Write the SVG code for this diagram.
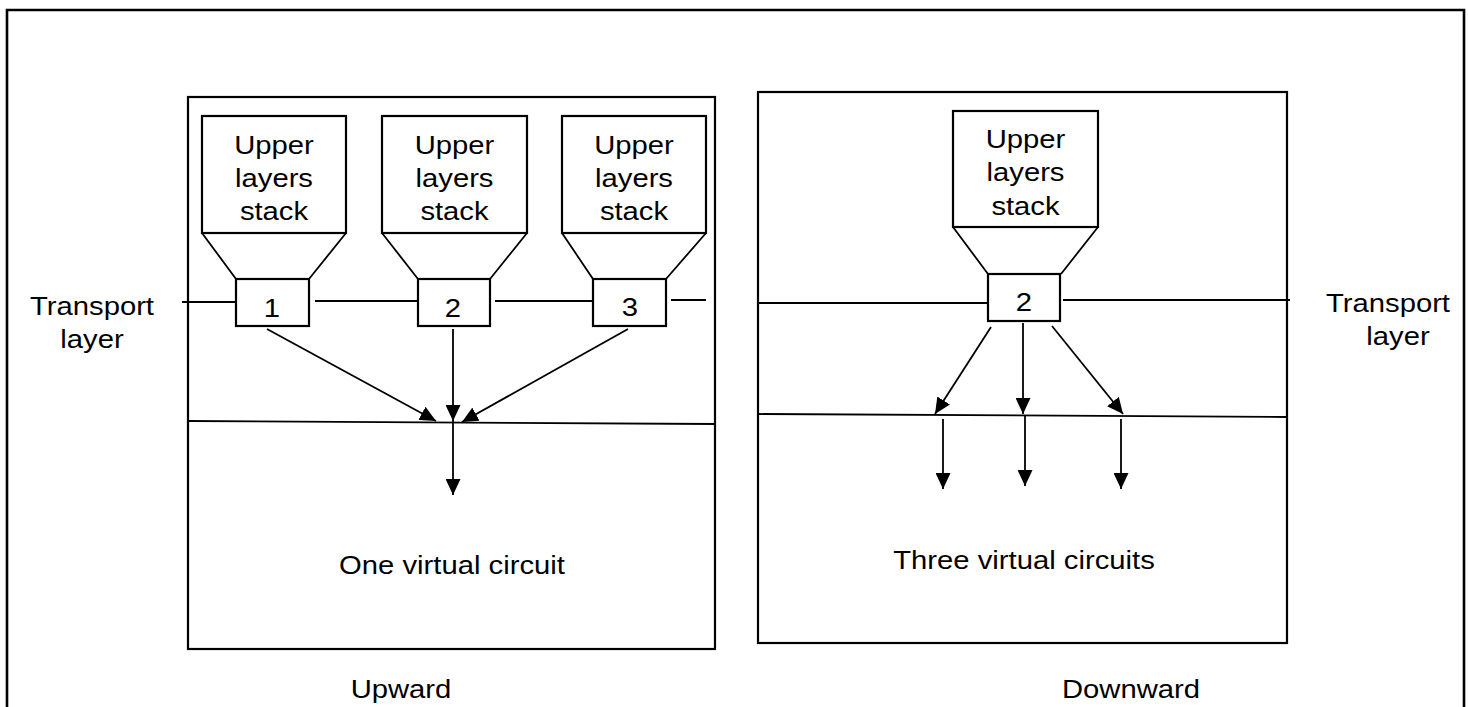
<svg xmlns="http://www.w3.org/2000/svg" width="1468" height="707" viewBox="0 0 1468 707">
<defs>
<marker id="ah" markerUnits="userSpaceOnUse" markerWidth="16" markerHeight="15" refX="16" refY="7.5" orient="auto">
<path d="M0,0 L16,7.5 L0,15 z" fill="#000"/>
</marker>
<style>
.box{fill:#fff;stroke:#000;stroke-width:2.2}
.frame{fill:none;stroke:#000;stroke-width:2.6}
.ln{fill:none;stroke:#000;stroke-width:1.8}
.arr{fill:none;stroke:#000;stroke-width:1.8;marker-end:url(#ah)}
text{font-family:"Liberation Sans",Arial,sans-serif;font-size:25px;fill:#000;text-anchor:middle}
</style>
</defs>
<rect width="1468" height="707" fill="#fff"/>
<g id="frame">
<path class="frame" d="M7,720 L7,10 L1464,10 L1464,720"/>
</g>
<g id="upward-panel">
<rect class="box" x="188" y="97" width="527" height="552"/>
<line class="ln" x1="188" y1="421" x2="715" y2="424"/>
</g>
<g id="downward-panel">
<rect class="box" x="758" y="92" width="529" height="551"/>
<line class="ln" x1="758" y1="414" x2="1287" y2="417"/>
</g>
<g id="transport-lines">
<line class="ln" x1="182" y1="302" x2="236" y2="302"/>
<line class="ln" x1="315" y1="301" x2="418" y2="301"/>
<line class="ln" x1="495" y1="301" x2="593" y2="301"/>
<line class="ln" x1="671" y1="300" x2="706" y2="300"/>
<line class="ln" x1="758" y1="303" x2="988" y2="303"/>
<line class="ln" x1="1063" y1="300" x2="1290" y2="300"/>
</g>
<g id="stack-1">
<rect class="box" x="202" y="116" width="144" height="117"/>
<path class="ln" d="M202,233 L236,279 M346,233 L309,279"/>
<rect class="box" x="236" y="279" width="73" height="47"/>
<text transform="translate(274 154) scale(1.17 1)">Upper</text>
<text transform="translate(274 187) scale(1.17 1)">layers</text>
<text transform="translate(274 220) scale(1.17 1)">stack</text>
<text transform="translate(272 317) scale(1.17 1)">1</text>
</g>
<g id="stack-2">
<rect class="box" x="382" y="116" width="145" height="117"/>
<path class="ln" d="M382,233 L418,279 M527,233 L490,279"/>
<rect class="box" x="418" y="279" width="72" height="47"/>
<text transform="translate(454.5 154) scale(1.17 1)">Upper</text>
<text transform="translate(454.5 187) scale(1.17 1)">layers</text>
<text transform="translate(454.5 220) scale(1.17 1)">stack</text>
<text transform="translate(453 317) scale(1.17 1)">2</text>
</g>
<g id="stack-3">
<rect class="box" x="562" y="116" width="144" height="117"/>
<path class="ln" d="M562,233 L593,279 M706,233 L666,279"/>
<rect class="box" x="593" y="279" width="73" height="47"/>
<text transform="translate(634 154) scale(1.17 1)">Upper</text>
<text transform="translate(634 187) scale(1.17 1)">layers</text>
<text transform="translate(634 220) scale(1.17 1)">stack</text>
<text transform="translate(630 316) scale(1.17 1)">3</text>
</g>
<g id="stack-right">
<rect class="box" x="953" y="111" width="145" height="116"/>
<path class="ln" d="M953,227 L988,274 M1098,227 L1061,274"/>
<rect class="box" x="988" y="274" width="72" height="47"/>
<text transform="translate(1025.5 148) scale(1.17 1)">Upper</text>
<text transform="translate(1025.5 181) scale(1.17 1)">layers</text>
<text transform="translate(1025.5 215) scale(1.17 1)">stack</text>
<text transform="translate(1024 311) scale(1.17 1)">2</text>
</g>
<g id="connectors">
<line class="arr" x1="267" y1="329" x2="436" y2="421"/>
<line class="arr" x1="453" y1="329" x2="453" y2="421"/>
<line class="arr" x1="628" y1="329" x2="462" y2="422"/>
<line class="arr" x1="453" y1="421" x2="453" y2="495"/>
<line class="arr" x1="991" y1="327" x2="935" y2="414"/>
<line class="arr" x1="1023" y1="323" x2="1023" y2="414"/>
<line class="arr" x1="1052" y1="326" x2="1123" y2="414"/>
<line class="arr" x1="943" y1="419" x2="943" y2="489"/>
<line class="arr" x1="1025" y1="416" x2="1025" y2="486"/>
<line class="arr" x1="1121" y1="419" x2="1121" y2="489"/>
</g>
<g id="labels">
<text transform="translate(92 315) scale(1.17 1)">Transport</text>
<text transform="translate(92 348) scale(1.17 1)">layer</text>
<text transform="translate(1388 312) scale(1.17 1)">Transport</text>
<text transform="translate(1398 345) scale(1.17 1)">layer</text>
<text transform="translate(452 574) scale(1.17 1)">One virtual circuit</text>
<text transform="translate(1024 569) scale(1.17 1)">Three virtual circuits</text>
<text transform="translate(401 698) scale(1.17 1)">Upward</text>
<text transform="translate(1131 698) scale(1.17 1)">Downward</text>
</g>
</svg>
